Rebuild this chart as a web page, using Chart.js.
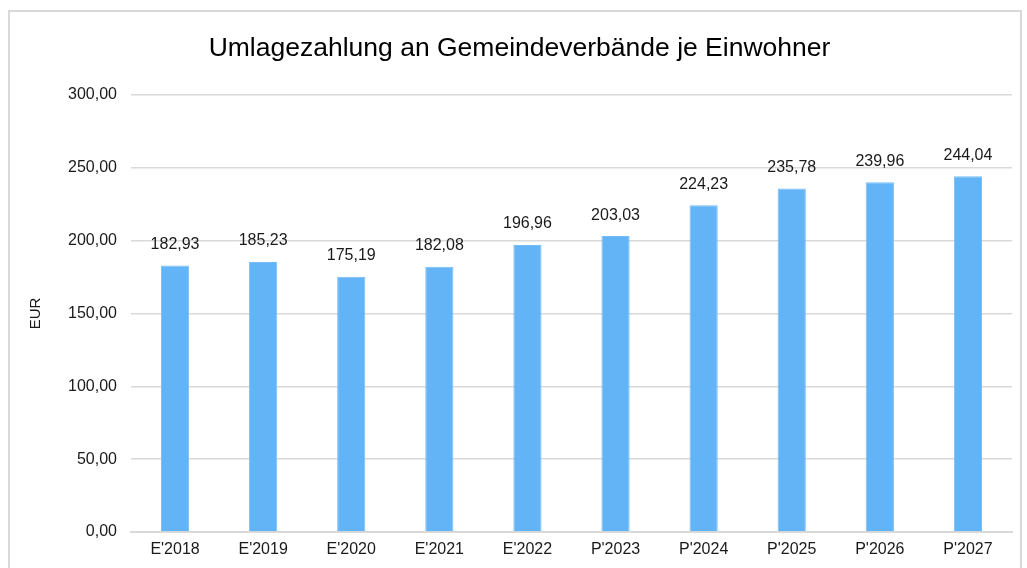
<!DOCTYPE html>
<html>
<head>
<meta charset="utf-8">
<script src="https://cdn.jsdelivr.net/npm/chart.js@4"></script>
<style>
  html, body { margin: 0; padding: 0; background: #fff; overflow: hidden; }
  #wrap { position: absolute; left: 0; top: 0; width: 1027px; height: 568px; }
</style>
</head>
<body>
<div id="wrap"><canvas id="chart" width="1027" height="568"></canvas></div>
<script>
const labels = ["E'2018", "E'2019", "E'2020", "E'2021", "E'2022", "P'2023", "P'2024", "P'2025", "P'2026", "P'2027"];
const values = [182.93, 185.23, 175.19, 182.08, 196.96, 203.03, 224.23, 235.78, 239.96, 244.04];
const yTicks = [0, 50, 100, 150, 200, 250, 300];

const fmt = (v) => v.toFixed(2).replace(".", ",");
const font = "'Liberation Sans', Arial, sans-serif";

// frame around the whole chart
const framePlugin = {
  id: "frame",
  beforeDraw(chart) {
    const ctx = chart.ctx;
    ctx.save();
    ctx.strokeStyle = "#d9d9d9";
    ctx.lineWidth = 2;
    ctx.strokeRect(9, 11, 1012, 600);
    ctx.restore();
  },
};

// value labels above the bars
const valueLabels = {
  id: "valueLabels",
  afterDatasetsDraw(chart) {
    const ctx = chart.ctx;
    const meta = chart.getDatasetMeta(0);
    ctx.save();
    ctx.font = "16px " + font;
    ctx.fillStyle = "#1a1a1a";
    ctx.textAlign = "center";
    ctx.textBaseline = "middle";
    meta.data.forEach((bar, i) => {
      ctx.fillText(fmt(values[i]), bar.x, bar.y - 21);
    });
    ctx.restore();
  },
};

new Chart(document.getElementById("chart"), {
  type: "bar",
  data: {
    labels: labels,
    datasets: [{
      data: values,
      backgroundColor: "#63b4f6",
      borderColor: "#75bcf7",
      borderWidth: 1,
      barPercentage: 0.32,
      categoryPercentage: 1,
    }],
  },
  options: {
    responsive: false,
    animation: false,
    layout: { padding: { left: 27, right: 15, top: 0, bottom: 0 } },
    plugins: {
      legend: { display: false },
      tooltip: { enabled: false },
      title: {
        display: true,
        text: "Umlagezahlung an Gemeindeverbände je Einwohner",
        color: "#000",
        font: { family: font, size: 26.5, weight: "normal" },
        padding: { top: 33, bottom: 30 },
      },
    },
    scales: {
      x: {
        grid: { display: false, drawTicks: false },
        border: { color: "#d9d9d9", width: 2 },
        ticks: { color: "#1a1a1a", font: { family: font, size: 16 }, padding: 8, maxRotation: 0 },
        afterFit(scale) { scale.height = 36; },
      },
      y: {
        min: 0,
        max: 300,
        afterBuildTicks(scale) { scale.ticks = yTicks.map((v) => ({ value: v })); },
        grid: { color: "#d9d9d9", lineWidth: 1.5, drawTicks: false },
        border: { display: false },
        ticks: {
          color: "#1a1a1a",
          font: { family: font, size: 16 },
          padding: 14,
          callback: (v) => fmt(v),
        },
        title: {
          display: true,
          text: "EUR",
          color: "#1a1a1a",
          font: { family: font, size: 15 },
          padding: { top: 0, bottom: 0 },
        },
        afterFit(scale) { scale.width = 104; },
      },
    },
  },
  plugins: [framePlugin, valueLabels],
});
</script>
</body>
</html>
